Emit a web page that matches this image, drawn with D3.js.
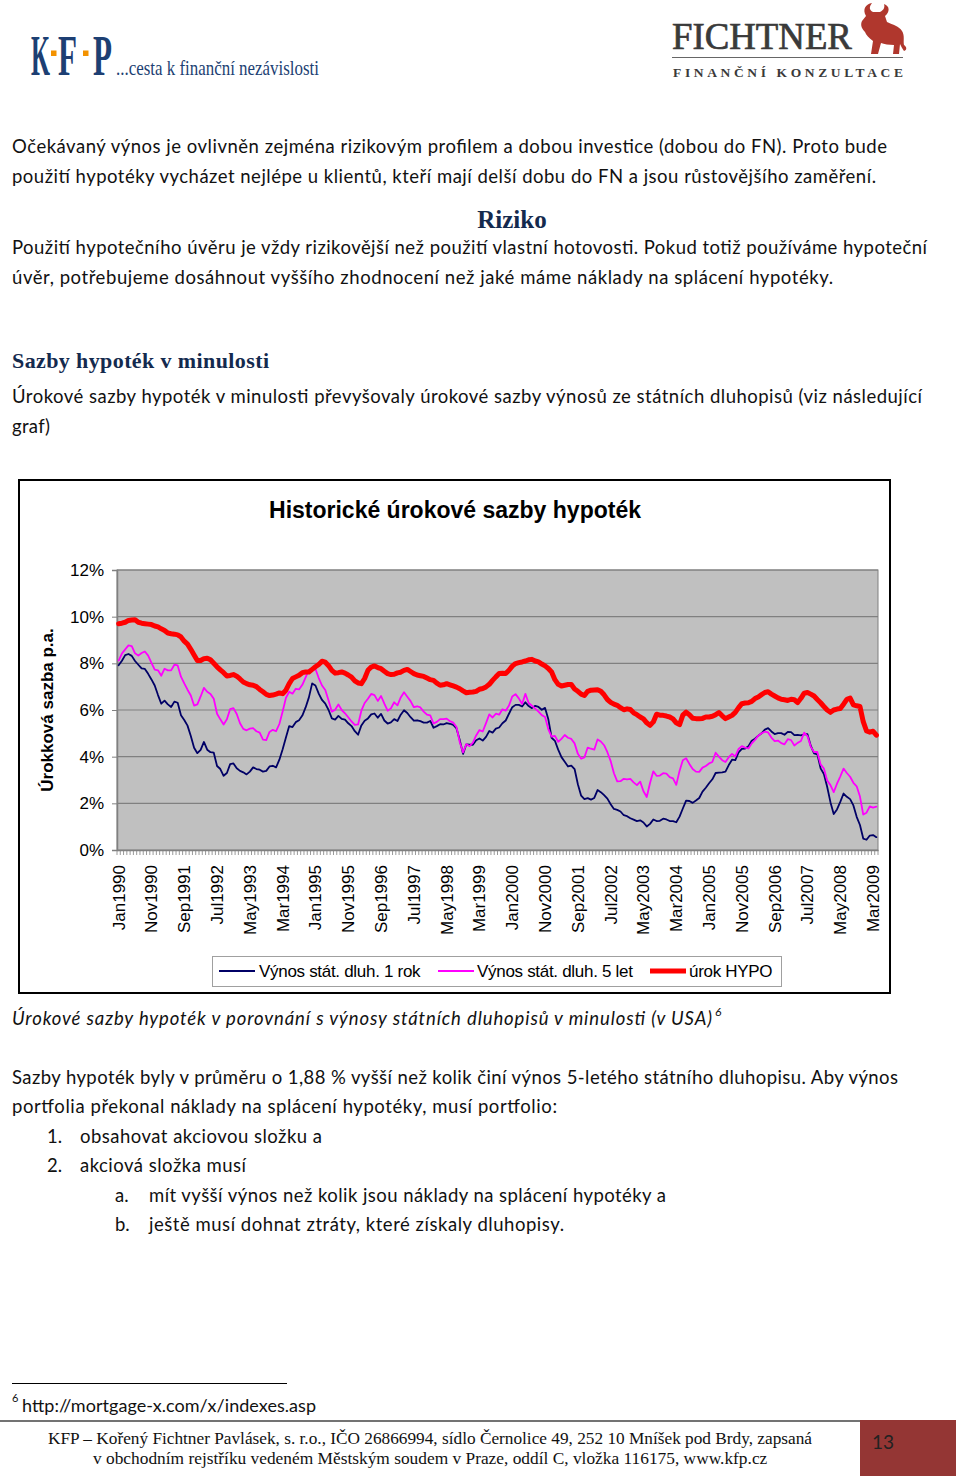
<!DOCTYPE html>
<html><head><meta charset="utf-8">
<script src="https://cdn.jsdelivr.net/npm/d3@7"></script>
<style>body{margin:0;background:#fff}svg{display:block}</style>
</head><body>
<script>
// ---------- DATA ----------
// monthly categories Jan1990 .. Apr2009
const monthNames = ["Jan","Feb","Mar","Apr","May","Jun","Jul","Aug","Sep","Oct","Nov","Dec"];
const categories = [];
for (let y = 1990; y <= 2009; y++) for (let m = 0; m < 12; m++) { if (y === 2009 && m > 3) break; categories.push(monthNames[m] + y); }

const tickLabels = ["Jan1990","Nov1990","Sep1991","Jul1992","May1993","Mar1994","Jan1995","Nov1995","Sep1996","Jul1997","May1998","Mar1999","Jan2000","Nov2000","Sep2001","Jul2002","May2003","Mar2004","Jan2005","Nov2005","Sep2006","Jul2007","May2008","Mar2009"];
const yTicks = [0,2,4,6,8,10,12];

// Výnos stát. dluh. 1 rok
const bond1y = [
7.92,8.11,8.35,8.40,8.32,8.10,7.94,7.78,7.76,7.55,7.31,7.05,
6.64,6.27,6.40,6.24,6.13,6.36,6.31,5.78,5.57,5.33,4.89,4.38,
4.15,4.29,4.63,4.30,4.19,4.17,3.60,3.47,3.18,3.30,3.68,3.71,
3.50,3.39,3.33,3.24,3.36,3.54,3.47,3.44,3.36,3.39,3.58,3.61,
3.54,3.87,4.32,4.82,5.31,5.27,5.48,5.56,5.76,6.11,6.54,7.14,
7.05,6.70,6.43,6.27,6.00,5.64,5.59,5.75,5.62,5.59,5.43,5.31,
5.09,4.94,5.34,5.54,5.64,5.81,5.85,5.67,5.83,5.55,5.42,5.47,
5.61,5.53,5.80,5.99,5.87,5.69,5.54,5.56,5.52,5.46,5.46,5.53,
5.24,5.31,5.39,5.38,5.44,5.41,5.36,5.21,4.71,4.12,4.53,4.52,
4.51,4.70,4.78,4.69,4.85,5.10,5.03,5.20,5.25,5.43,5.55,5.84,
6.12,6.22,6.22,6.15,6.33,6.17,6.08,6.18,6.13,6.01,6.09,5.60,
4.81,4.68,4.30,3.98,3.78,3.58,3.62,3.47,2.82,2.33,2.18,2.22,
2.16,2.23,2.57,2.48,2.35,2.20,1.96,1.76,1.72,1.65,1.49,1.45,
1.36,1.30,1.24,1.27,1.18,1.01,1.12,1.31,1.24,1.25,1.34,1.31,
1.24,1.24,1.19,1.43,1.78,2.12,2.10,2.02,2.12,2.23,2.50,2.67,
2.86,3.03,3.30,3.32,3.33,3.36,3.64,3.87,3.85,4.18,4.33,4.35,
4.45,4.68,4.77,4.90,5.00,5.16,5.22,5.08,4.97,5.01,5.01,4.94,
5.06,5.05,4.92,4.93,4.91,4.96,4.96,4.47,4.14,4.10,3.50,3.26,
2.71,2.05,1.54,1.74,2.06,2.42,2.28,2.18,1.91,1.42,1.07,0.49,
0.44,0.62,0.64,0.55];

// Výnos stát. dluh. 5 let
const bond5y = [
8.12,8.42,8.60,8.77,8.74,8.43,8.33,8.44,8.51,8.33,8.02,7.73,
7.70,7.47,7.77,7.70,7.70,7.94,7.91,7.43,7.14,6.87,6.62,6.19,
6.24,6.58,6.95,6.78,6.69,6.48,5.84,5.60,5.38,5.60,6.04,6.08,
5.83,5.43,5.19,5.13,5.20,5.22,5.09,5.03,4.73,4.71,5.06,5.15,
5.09,5.40,5.94,6.52,6.78,6.70,6.91,6.88,7.08,7.40,7.72,7.78,
7.76,7.37,7.05,6.86,6.41,5.93,6.01,6.24,6.00,5.86,5.69,5.51,
5.36,5.38,5.97,6.30,6.48,6.69,6.64,6.39,6.60,6.27,5.97,6.07,
6.33,6.20,6.54,6.76,6.57,6.38,6.12,6.16,6.11,5.93,5.80,5.77,
5.42,5.49,5.61,5.61,5.63,5.52,5.46,5.27,4.62,4.18,4.54,4.45,
4.60,4.91,5.14,5.08,5.44,5.81,5.68,5.84,5.80,6.03,5.97,6.19,
6.58,6.68,6.50,6.26,6.69,6.30,6.18,6.06,5.93,5.78,5.70,5.17,
4.86,4.89,4.64,4.76,4.93,4.81,4.76,4.57,4.12,3.91,3.97,4.39,
4.34,4.30,4.74,4.65,4.49,4.19,3.81,3.29,2.94,2.95,3.05,3.03,
3.05,2.90,2.78,2.93,2.52,2.27,2.87,3.37,3.18,3.19,3.29,3.27,
3.12,3.07,2.79,3.39,3.85,3.93,3.69,3.47,3.36,3.35,3.53,3.60,
3.71,3.77,4.17,4.00,3.85,3.77,3.98,4.12,4.01,4.33,4.45,4.39,
4.35,4.57,4.72,4.90,5.00,5.07,5.04,4.82,4.67,4.69,4.58,4.53,
4.75,4.71,4.48,4.59,4.67,5.03,4.88,4.43,4.20,4.20,3.67,3.49,
2.98,2.78,2.48,2.84,3.15,3.49,3.30,3.14,2.88,2.73,2.29,1.52,
1.60,1.87,1.82,1.86];

// úrok HYPO
const hypo = [
9.70,9.72,9.76,9.84,9.86,9.87,9.76,9.72,9.70,9.68,9.66,9.60,
9.56,9.48,9.41,9.30,9.27,9.25,9.22,9.13,8.95,8.82,8.60,8.36,
8.12,8.12,8.20,8.22,8.15,8.00,7.85,7.72,7.60,7.46,7.48,7.52,
7.45,7.33,7.20,7.13,7.08,7.06,7.00,6.88,6.78,6.67,6.62,6.64,
6.68,6.73,6.70,6.85,7.13,7.35,7.42,7.49,7.60,7.63,7.63,7.74,
7.85,7.95,8.09,8.05,7.90,7.70,7.58,7.60,7.63,7.58,7.50,7.41,
7.25,7.16,7.13,7.35,7.70,7.84,7.89,7.82,7.77,7.66,7.56,7.52,
7.53,7.59,7.62,7.70,7.74,7.65,7.56,7.50,7.47,7.44,7.37,7.30,
7.27,7.15,7.06,7.08,7.13,7.08,7.03,6.98,6.91,6.82,6.74,6.76,
6.77,6.80,6.89,6.92,6.99,7.10,7.27,7.42,7.56,7.57,7.56,7.70,
7.88,7.99,8.03,8.06,8.10,8.15,8.17,8.10,8.06,7.97,7.89,7.78,
7.63,7.30,7.10,7.03,7.06,7.09,7.09,6.90,6.80,6.68,6.62,
6.80,6.85,6.86,6.87,6.80,6.65,6.45,6.33,6.25,6.20,6.10,6.01,
6.05,6.02,5.88,5.80,5.70,5.62,5.45,5.34,5.49,5.82,5.78,5.77,
5.74,5.70,5.62,5.45,5.37,5.78,5.91,5.80,5.65,5.63,5.63,5.64,
5.70,5.70,5.73,5.80,5.89,5.75,5.63,5.70,5.77,5.90,6.10,6.27,
6.30,6.31,6.37,6.49,6.56,6.66,6.75,6.78,6.68,6.60,6.52,6.46,
6.44,6.41,6.46,6.44,6.32,6.50,6.72,6.75,6.68,6.60,6.45,6.31,
6.15,6.00,5.90,6.00,6.04,6.06,6.25,6.46,6.51,6.22,6.18,6.15,
5.50,5.10,5.05,5.09,4.92];

const seriesNames = ["Výnos stát. dluh. 1 rok","Výnos stát. dluh. 5 let","úrok HYPO"];

// ---------- DRAW ----------
const W = 960, H = 1479;
const svg = d3.select("body").append("svg").attr("width", W).attr("height", H);
const body = "Lato, 'Open Sans', sans-serif";
const serif = "'Liberation Serif', 'DejaVu Serif', serif";
const arial = "'Liberation Sans', Arial, sans-serif";

// horizontally squeeze a text to a target width via a scale transform
function fitText(sel, x0, y0, w) {
  const nat = sel.node().getComputedTextLength();
  const sx = w / nat;
  sel.attr("x", 0).attr("y", 0).attr("transform", `translate(${x0},${y0}) scale(${sx},1)`);
  return sel;
}

// --- header: KFP logo ---
const navy = "#1d3f73";
[["K",31,19],["F",58,19],["P",93,19]].forEach(([t,xx,w]) => {
  const el = svg.append("text").attr("font-family", serif).attr("font-size", 56).attr("font-weight", "bold")
    .attr("fill", navy).text(t);
  fitText(el, xx, 75, w);
});
fitText(svg.append("text").attr("font-family", serif).attr("font-size", 21).attr("fill", navy)
  .text("...cesta k finanční nezávislosti"), 116, 75, 203);
svg.append("rect").attr("x", 51).attr("y", 50.5).attr("width", 5.5).attr("height", 5.5).attr("fill", "#f39200");
svg.append("rect").attr("x", 83).attr("y", 50.5).attr("width", 5.5).attr("height", 5.5).attr("fill", "#f39200");

// --- header: Fichtner logo ---
fitText(svg.append("text").attr("font-family", serif).attr("font-size", 37).attr("fill", "#3a3a3a")
  .attr("stroke", "#3a3a3a").attr("stroke-width", 0.7).text("FICHTNER"), 672, 49, 180);
svg.append("text").attr("x", 673).attr("y", 77).attr("font-family", serif).attr("font-size", 13.5).attr("font-weight", "bold")
  .attr("fill", "#3a3a3a").attr("textLength", 230).attr("lengthAdjust", "spacing").text("FINANČNÍ KONZULTACE");
svg.append("line").attr("x1", 672).attr("x2", 903).attr("y1", 57.5).attr("y2", 57.5).attr("stroke", "#666").attr("stroke-width", 1.2);
svg.append("path").attr("fill", "#b0372d")
  .attr("d", "M866,16 C862,9 866,4 872,3 C869,7 869,10 873,12 L880,12 C884,10 885,7 884,4 C890,6 890,12 885,16 L887,22 C893,25 899,26 902,31 C905,36 903,41 904,45 C907,47 907,50 904,51 C902,48 901,46 900,44 L899,54 L893,54 L894,45 C889,45 884,44 881,43 L878,54 L871,54 L873,41 C869,38 866,35 865,32 C862,29 860,25 862,21 Z");

// --- body text ---
const lines = [
  [12,153,"Očekávaný výnos je ovlivněn zejména rizikovým profilem a dobou investice (dobou do FN). Proto bude",875],
  [12,183,"použití hypotéky vycházet nejlépe u klientů, kteří mají delší dobu do FN a jsou růstovějšího zaměření.",864],
  [12,254,"Použití hypotečního úvěru je vždy rizikovější než použití vlastní hotovosti. Pokud totiž používáme hypoteční",915],
  [12,284,"úvěr, potřebujeme dosáhnout vyššího zhodnocení než jaké máme náklady na splácení hypotéky.",821],
  [12,403,"Úrokové sazby hypoték v minulosti převyšovaly úrokové sazby výnosů ze státních dluhopisů (viz následující",910],
  [12,433,"graf)",38],
  [12,1084,"Sazby hypoték byly v průměru o 1,88 % vyšší než kolik činí výnos 5-letého státního dluhopisu. Aby výnos",886],
  [12,1113,"portfolia překonal náklady na splácení hypotéky, musí portfolio:",545],
  [47,1143,"1.",null],[80,1143,"obsahovat akciovou složku a",242],
  [47,1172,"2.",null],[80,1172,"akciová složka musí",166],
  [115,1202,"a.",null],[149,1202,"mít vyšší výnos než kolik jsou náklady na splácení hypotéky a",517],
  [115,1231,"b.",null],[149,1231,"ještě musí dohnat ztráty, které získaly dluhopisy.",415]
];
lines.forEach(([x,y,t,w]) => {
  const el = svg.append("text").attr("x", x).attr("y", y).attr("font-family", body).attr("font-size", 18.5)
    .attr("fill", "#111").text(t);
  if (w) el.attr("textLength", w).attr("lengthAdjust", "spacing");
});
const headColor = "#142a4e";
svg.append("text").attr("x", 512).attr("y", 228).attr("text-anchor", "middle").attr("font-family", serif)
  .attr("font-weight", "bold").attr("font-size", 25).attr("fill", headColor).text("Riziko");
svg.append("text").attr("x", 12).attr("y", 368).attr("font-family", serif).attr("font-weight", "bold")
  .attr("font-size", 22).attr("fill", headColor).attr("textLength", 257).attr("lengthAdjust", "spacing").text("Sazby hypoték v minulosti");

// caption
const cap = svg.append("text").attr("x", 12).attr("y", 1025).attr("font-family", body).attr("font-style", "italic")
  .attr("font-size", 18.5).attr("fill", "#111");
cap.append("tspan").attr("textLength", 700).attr("lengthAdjust", "spacing")
  .text("Úrokové sazby hypoték v porovnání s výnosy státních dluhopisů v minulosti (v USA)");
cap.append("tspan").attr("x", 715).attr("dy", -9).attr("font-size", 12).text("6");

// footnote
svg.append("line").attr("x1", 12).attr("x2", 287).attr("y1", 1383.5).attr("y2", 1383.5).attr("stroke", "#000").attr("stroke-width", 1);
const fn = svg.append("text").attr("font-family", body).attr("fill", "#111");
fn.append("tspan").attr("x", 12).attr("y", 1402).attr("font-size", 11).text("6");
fn.append("tspan").attr("x", 22).attr("y", 1412).attr("font-size", 18)
  .attr("textLength", 294).attr("lengthAdjust", "spacing").text("http://mortgage-x.com/x/indexes.asp");

// footer
svg.append("line").attr("x1", 0).attr("x2", 860).attr("y1", 1421).attr("y2", 1421).attr("stroke", "#444").attr("stroke-width", 1.5);
svg.append("rect").attr("x", 860).attr("y", 1420).attr("width", 96).attr("height", 56).attr("fill", "#943634");
svg.append("text").attr("x", 872).attr("y", 1449).attr("font-family", body).attr("font-size", 19).attr("fill", "#222").text("13");
fitText(svg.append("text").attr("font-family", serif).attr("font-size", 16.5).attr("fill", "#111")
  .text("KFP – Kořený Fichtner Pavlásek, s. r.o., IČO 26866994, sídlo Černolice 49, 252 10 Mníšek pod Brdy, zapsaná"), 48, 1444, 765);
fitText(svg.append("text").attr("font-family", serif).attr("font-size", 16.5).attr("fill", "#111")
  .text("v  obchodním rejstříku vedeném Městským soudem v Praze, oddíl C, vložka 116175, www.kfp.cz"), 93, 1464, 675);

// --- chart ---
svg.append("rect").attr("x", 19).attr("y", 480).attr("width", 871).attr("height", 513)
  .attr("fill", "#fff").attr("stroke", "#000").attr("stroke-width", 2);
svg.append("text").attr("x", 455).attr("y", 518).attr("text-anchor", "middle").attr("font-family", arial)
  .attr("font-weight", "bold").attr("font-size", 23).attr("fill", "#000").text("Historické úrokové sazby hypoték");

const plot = {l: 117, r: 878, t: 570, b: 850};
const x = d3.scaleBand().domain(categories).range([plot.l, plot.r]).padding(0);
const y = d3.scaleLinear().domain([0, 12]).range([plot.b, plot.t]);
const cx = d => x(d) + x.bandwidth() / 2;

svg.append("rect").attr("x", plot.l).attr("y", plot.t).attr("width", plot.r - plot.l).attr("height", plot.b - plot.t)
  .attr("fill", "#c0c0c0").attr("stroke", "#808080").attr("stroke-width", 1);
svg.append("g").selectAll("line").data(yTicks.slice(1)).join("line")
  .attr("x1", plot.l).attr("x2", plot.r).attr("y1", d => y(d)).attr("y2", d => y(d))
  .attr("stroke", "#808080").attr("stroke-width", 1.2);

// y axis
const yAxis = d3.axisLeft(y).tickValues(yTicks).tickFormat(d => d + "%").tickSize(5).tickPadding(8);
const gy = svg.append("g").attr("transform", `translate(${plot.l},0)`).call(yAxis);
gy.select(".domain").attr("stroke", "#808080").attr("stroke-width", 1.5);
gy.selectAll(".tick line").attr("stroke", "#808080");
gy.selectAll("text").attr("font-family", arial).attr("font-size", 17).attr("fill", "#000");

// x axis
const xAxis = d3.axisBottom(x).tickValues(tickLabels).tickSize(0).tickPadding(0);
const gx = svg.append("g").attr("transform", `translate(0,${plot.b})`).call(xAxis);
gx.select(".domain").attr("stroke", "#808080").attr("stroke-width", 1.5);
gx.selectAll("text").attr("font-family", arial).attr("font-size", 17).attr("fill", "#000")
  .attr("text-anchor", "end").attr("transform", "translate(6,15) rotate(-90)").attr("y", 0).attr("dy", 0);
// monthly tick marks
svg.append("g").selectAll("line").data(categories.concat(["_end"])).join("line")
  .attr("x1", (d, i) => plot.l + i * x.bandwidth()).attr("x2", (d, i) => plot.l + i * x.bandwidth())
  .attr("y1", plot.b).attr("y2", plot.b + 5).attr("stroke", "#808080").attr("stroke-width", 0.8);

// y axis title
svg.append("text").attr("transform", "translate(53,710) rotate(-90)").attr("text-anchor", "middle")
  .attr("font-family", arial).attr("font-weight", "bold").attr("font-size", 17).attr("fill", "#000")
  .text("Úrokková sazba p.a.");

// lines
const colors = ["#000066", "#ff00ff", "#ff0000"];
const widths = [1.8, 1.8, 5];
const series = [bond1y, bond5y, hypo];
const line = d3.line().x((d, i) => cx(categories[i])).y(d => y(d)).curve(d3.curveLinear);
series.forEach((s, k) => {
  svg.append("path").datum(s).attr("d", line).attr("fill", "none").attr("stroke", colors[k])
    .attr("stroke-width", widths[k]).attr("stroke-linejoin", "round").attr("stroke-linecap", "round");
});

// legend
svg.append("rect").attr("x", 212.5).attr("y", 956.5).attr("width", 569).attr("height", 30)
  .attr("fill", "#fff").attr("stroke", "#a0a0a0").attr("stroke-width", 1);
const legX = [[219, 259], [438, 477], [650, 689]];
seriesNames.forEach((n, k) => {
  svg.append("line").attr("x1", legX[k][0]).attr("x2", legX[k][0] + 36).attr("y1", 971).attr("y2", 971)
    .attr("stroke", colors[k]).attr("stroke-width", widths[k]);
  svg.append("text").attr("x", legX[k][1]).attr("y", 977).attr("font-family", arial).attr("font-size", 17)
    .attr("fill", "#000").attr("letter-spacing", -0.3).text(n);
});
</script>
</body></html>
